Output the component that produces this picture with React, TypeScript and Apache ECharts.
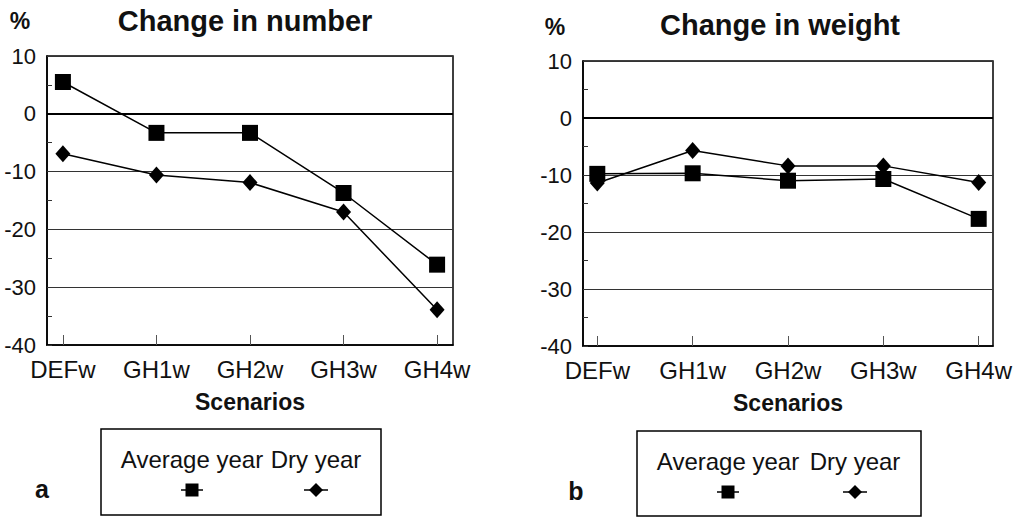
import React, { useEffect, useRef } from "react";
import * as echarts from "echarts";

const categories = ["DEFw", "GH1w", "GH2w", "GH3w", "GH4w"];
const numberAverage = [5.5, -3.3, -3.3, -13.7, -26.1];
const numberDry = [-6.9, -10.6, -11.9, -17.0, -33.9];
const weightAverage = [-9.8, -9.7, -11.0, -10.7, -17.7];
const weightDry = [-11.4, -5.7, -8.4, -8.4, -11.3];
const yTicks = { min: -40, max: 10, step: 10 };
const seriesNames = ["Average year", "Dry year"];

const FONT = "'Liberation Sans', Arial, Helvetica, sans-serif";
const tickPositions = categories.map((_, i) => i);

function xAxisFor(gridIndex: number, pad: number) {
  return {
    type: "value",
    gridIndex,
    min: -pad,
    max: categories.length - 1 + pad,
    axisLine: { show: true, onZero: false, lineStyle: { color: "#000", width: 1.6 } },
    axisTick: {
      show: true,
      inside: true,
      length: 10,
      customValues: tickPositions,
      lineStyle: { color: "#555", width: 1 },
    },
    axisLabel: {
      customValues: tickPositions,
      formatter: (v: number) => categories[Math.round(v)] ?? "",
      fontFamily: FONT,
      fontSize: 24,
      color: "#111",
      margin: 12,
    },
    splitLine: { show: false },
    name: "Scenarios",
    nameLocation: "middle",
    nameGap: 45,
    nameTextStyle: { fontFamily: FONT, fontSize: 23, fontWeight: "bold", color: "#111" },
  };
}

function yAxisFor(gridIndex: number) {
  return {
    type: "value",
    gridIndex,
    min: yTicks.min,
    max: yTicks.max,
    interval: yTicks.step,
    axisLine: { show: true, onZero: false, lineStyle: { color: "#000", width: 1.6 } },
    axisTick: { show: true, inside: true, length: 5, lineStyle: { color: "#333" } },
    minorTick: { show: true, splitNumber: 2, length: 5, lineStyle: { color: "#333" } },
    axisLabel: { fontFamily: FONT, fontSize: 22, color: "#111", margin: 11 },
    splitLine: { show: true, lineStyle: { color: "#333", width: 1 } },
  };
}

function lineSeries(name: string, values: number[], idx: number, square: boolean) {
  const s: any = {
    name,
    type: "line",
    xAxisIndex: idx,
    yAxisIndex: idx,
    data: values.map((v, i) => [i, v]),
    symbol: square ? "rect" : "diamond",
    symbolSize: square ? 16 : [15, 17],
    showSymbol: true,
    lineStyle: { color: "#000", width: 1.5 },
    itemStyle: { color: "#000" },
    z: square ? 4 : 3,
  };
  if (square) {
    s.markLine = {
      silent: true,
      symbol: "none",
      label: { show: false },
      lineStyle: { color: "#000", width: 1.8, type: "solid" },
      data: [{ yAxis: 0 }],
    };
  }
  return s;
}

function legendBox(x: number, y: number, w: number, h: number, avgX: number, dryX: number, letter: string, letterX: number) {
  const textY = y + 30;
  const markY = y + 61;
  return [
    {
      type: "rect",
      shape: { x, y, width: w, height: h },
      style: { fill: "#fff", stroke: "#000", lineWidth: 1.5 },
    },
    {
      type: "text",
      x: avgX,
      y: textY,
      style: { text: seriesNames[0], font: `24px ${FONT}`, fill: "#111", align: "center", verticalAlign: "middle" },
    },
    {
      type: "text",
      x: dryX,
      y: textY,
      style: { text: seriesNames[1], font: `24px ${FONT}`, fill: "#111", align: "center", verticalAlign: "middle" },
    },
    {
      type: "line",
      shape: { x1: avgX - 11, y1: markY, x2: avgX + 11, y2: markY },
      style: { stroke: "#000", lineWidth: 1.5 },
    },
    {
      type: "rect",
      shape: { x: avgX - 6.5, y: markY - 6.5, width: 13, height: 13 },
      style: { fill: "#000" },
    },
    {
      type: "line",
      shape: { x1: dryX - 12, y1: markY, x2: dryX + 12, y2: markY },
      style: { stroke: "#000", lineWidth: 1.5 },
    },
    {
      type: "polygon",
      shape: { points: [[dryX, markY - 7], [dryX + 7, markY], [dryX, markY + 7], [dryX - 7, markY]] },
      style: { fill: "#000" },
    },
    {
      type: "text",
      x: letterX,
      y: markY - 1,
      style: { text: letter, font: `bold 25px ${FONT}`, fill: "#111", align: "center", verticalAlign: "middle" },
    },
  ];
}

function headerTexts(pctX: number, pctY: number, titleX: number, titleY: number, title: string) {
  return [
    {
      type: "text",
      x: pctX,
      y: pctY,
      style: { text: "%", font: `bold 23px ${FONT}`, fill: "#111", align: "center", verticalAlign: "middle" },
    },
    {
      type: "text",
      x: titleX,
      y: titleY,
      style: { text: title, font: `bold 29px ${FONT}`, fill: "#111", align: "center", verticalAlign: "middle" },
    },
  ];
}

export default function App() {
  const ref = useRef<HTMLDivElement>(null);

  useEffect(() => {
    if (!ref.current) return;
    const chart = echarts.init(ref.current, undefined, { renderer: "svg" });
    const option: any = {
      animation: false,
      backgroundColor: "#fff",
      grid: [
        { left: 47, top: 56, width: 406, height: 289, show: true, borderColor: "#000", borderWidth: 1.5, backgroundColor: "transparent" },
        { left: 583, top: 61, width: 410, height: 285, show: true, borderColor: "#000", borderWidth: 1.5, backgroundColor: "transparent" },
      ],
      xAxis: [xAxisFor(0, 0.17), xAxisFor(1, 0.15)],
      yAxis: [yAxisFor(0), yAxisFor(1)],
      series: [
        lineSeries(seriesNames[0], numberAverage, 0, true),
        lineSeries(seriesNames[1], numberDry, 0, false),
        lineSeries(seriesNames[0], weightAverage, 1, true),
        lineSeries(seriesNames[1], weightDry, 1, false),
      ],
      graphic: [
        ...headerTexts(20, 21, 245, 21, "Change in number"),
        ...headerTexts(555, 27, 780, 25, "Change in weight"),
        ...legendBox(101, 429, 280, 86, 192, 316, "a", 42),
        ...legendBox(637, 431, 284, 85, 728, 855, "b", 576),
      ],
    };
    chart.setOption(option);
    return () => chart.dispose();
  }, []);

  return (
    <div
      ref={ref}
      style={{ position: "fixed", left: 0, top: 0, width: 1017, height: 518, background: "#fff" }}
    />
  );
}
